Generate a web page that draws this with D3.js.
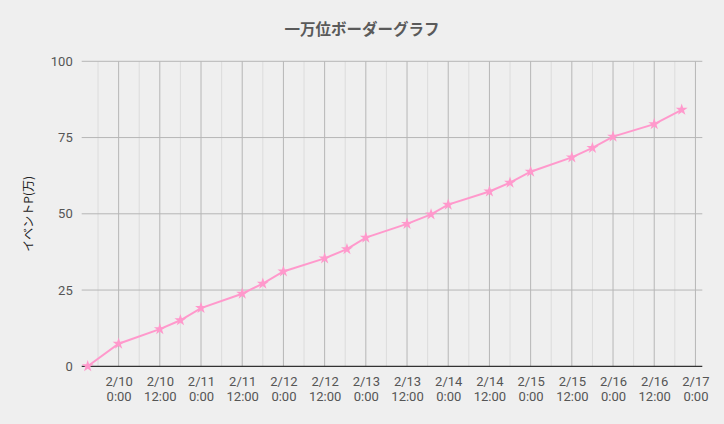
<!DOCTYPE html>
<html>
<head>
<meta charset="utf-8">
<script src="https://cdn.jsdelivr.net/npm/d3@7"></script>
<style>
  body { margin: 0; background: #efefef; }
  svg { display: block; }
</style>
</head>
<body>
<div id="chart"></div>
<script>
// border points: time (M/D H:MM) and event points (x10,000)
const times = [
    '2/9 15:00', '2/10 0:00', '2/10 12:00', '2/10 18:00',
    '2/11 0:00', '2/11 12:00', '2/11 18:00',
    '2/12 0:00', '2/12 12:00', '2/12 18:30',
    '2/13 0:00', '2/13 12:00', '2/13 19:00',
    '2/14 0:00', '2/14 12:00', '2/14 18:00',
    '2/15 0:00', '2/15 12:00', '2/15 18:00',
    '2/16 0:00', '2/16 12:00', '2/16 20:00'
];
const points = [
    0, 7.4, 12.2, 15.1,
    19.1, 23.8, 27.1,
    31.1, 35.4, 38.4,
    42.2, 46.7, 49.8,
    53.0, 57.3, 60.2,
    63.8, 68.5, 71.6,
    75.3, 79.4, 84.1
];
const yTicks = [0, 25, 50, 75, 100];
const domainStart = '2/9 13:15';
const domainEnd = '2/17 2:00';

const parse = s => {
    const [md, hm] = s.split(' ');
    const [m, d] = md.split('/').map(Number);
    const [h, mi] = hm.split(':').map(Number);
    return new Date(2020, m - 1, d, h, mi);
};

const data = times.map((t, i) => ({ date: parse(t), value: points[i] }));

const W = 724, H = 424;
const margin = { top: 61.3, right: 21.7, bottom: 57.7, left: 81.7 };
const width = W - margin.left - margin.right;
const height = H - margin.top - margin.bottom;

const svg = d3.select('#chart')
    .append('svg')
    .attr('width', W)
    .attr('height', H);

svg.append('rect').attr('width', W).attr('height', H).attr('fill', '#efefef');

const g = svg.append('g')
    .attr('transform', `translate(${margin.left},${margin.top})`);

const x = d3.scaleTime()
    .domain([parse(domainStart), parse(domainEnd)])
    .range([0, width]);

const y = d3.scaleLinear()
    .domain([0, 100])
    .range([height, 0]);

// minor vertical grid (every 6 hours)
const minor = d3.timeHour.every(6).range(parse(domainStart), parse(domainEnd))
    .filter(d => d.getHours() % 12 !== 0);
g.append('g')
    .selectAll('line')
    .data(minor)
    .join('line')
    .attr('x1', d => x(d)).attr('x2', d => x(d))
    .attr('y1', 0).attr('y2', height)
    .attr('stroke', '#dcdcdc')
    .attr('stroke-width', 1);

// major vertical grid (every 12 hours)
const major = d3.timeHour.every(12).range(parse(domainStart), parse(domainEnd));
g.append('g')
    .selectAll('line')
    .data(major)
    .join('line')
    .attr('x1', d => x(d)).attr('x2', d => x(d))
    .attr('y1', 0).attr('y2', height)
    .attr('stroke', '#b6b6b6')
    .attr('stroke-width', 1);

// horizontal grid
g.append('g')
    .selectAll('line')
    .data(yTicks.filter(v => v > 0))
    .join('line')
    .attr('x1', 0).attr('x2', width)
    .attr('y1', d => y(d)).attr('y2', d => y(d))
    .attr('stroke', '#b6b6b6')
    .attr('stroke-width', 1);

// baseline
g.append('line')
    .attr('x1', 0).attr('x2', width)
    .attr('y1', y(0)).attr('y2', y(0))
    .attr('stroke', '#333')
    .attr('stroke-width', 1.2);

// y axis labels
const yAxis = g.append('g')
    .call(d3.axisLeft(y).tickValues(yTicks).tickSize(0).tickPadding(9));
yAxis.select('.domain').remove();
yAxis.selectAll('text')
    .attr('fill', '#555')
    .style('font-family', 'Roboto, sans-serif')
    .style('font-size', '13px');

// x axis labels (two lines)
const xAxis = g.append('g')
    .attr('transform', `translate(0,${height})`)
    .call(d3.axisBottom(x).tickValues(major).tickSize(0).tickFormat(''));
xAxis.select('.domain').remove();
xAxis.selectAll('.tick').each(function (d) {
    const t = d3.select(this).append('text')
        .attr('fill', '#555')
        .attr('text-anchor', 'middle')
        .style('font-family', 'Roboto, sans-serif')
        .style('font-size', '13px');
    t.append('tspan').attr('x', 0).attr('y', 20)
        .text(`${d.getMonth() + 1}/${d.getDate()}`);
    t.append('tspan').attr('x', 0).attr('y', 35)
        .text(`${d.getHours()}:00`);
});

// line
g.append('path')
    .datum(data)
    .attr('fill', 'none')
    .attr('stroke', '#ff99cc')
    .attr('stroke-width', 2)
    .attr('d', d3.line()
        .x(d => x(d.date))
        .y(d => y(d.value)));

// star markers
g.append('g')
    .selectAll('path')
    .data(data)
    .join('path')
    .attr('transform', d => `translate(${x(d.date)},${y(d.value)})`)
    .attr('d', d3.symbol(d3.symbolStar, 44))
    .attr('fill', '#ff99cc');

// title
svg.append('text')
    .attr('x', W / 2)
    .attr('y', 35)
    .attr('text-anchor', 'middle')
    .attr('fill', '#5a5a5a')
    .style('font-family', '"Noto Sans CJK JP", sans-serif')
    .style('font-size', '15.5px')
    .style('font-weight', 'bold')
    .text('一万位ボーダーグラフ');

// y axis title
svg.append('text')
    .attr('transform', `translate(33,${margin.top + height / 2}) rotate(-90)`)
    .attr('text-anchor', 'middle')
    .attr('fill', '#222')
    .style('font-family', '"Noto Sans CJK JP", sans-serif')
    .style('font-size', '12px')
    .text('イベントP(万)');
</script>
</body>
</html>
